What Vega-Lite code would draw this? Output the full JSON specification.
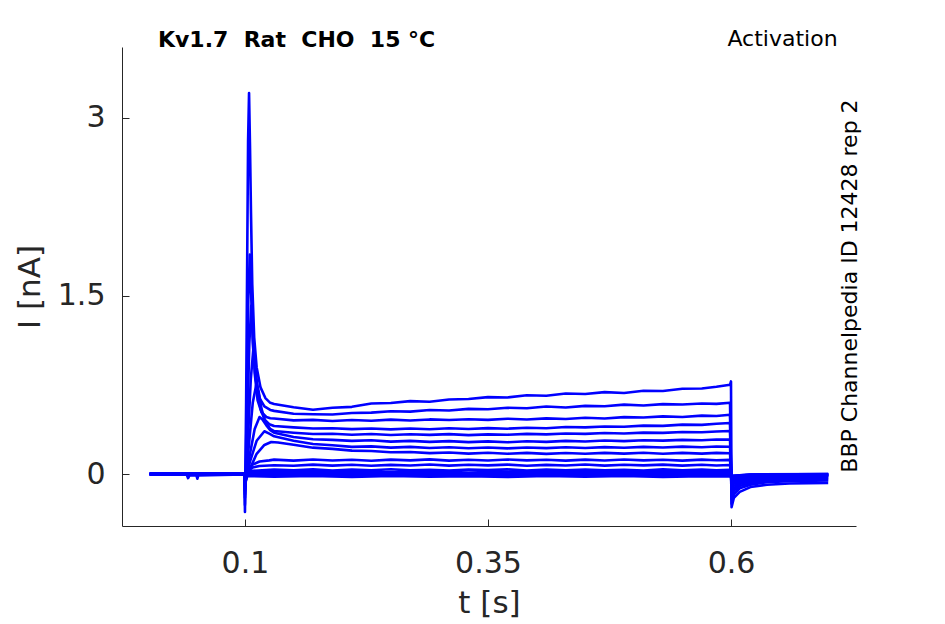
{
  "$schema": "https://vega.github.io/schema/vega-lite/v6.json",
  "width": 734,
  "height": 479,
  "autosize": "none",
  "padding": {"left": 122, "top": 47, "right": 89, "bottom": 98},
  "background": "white",
  "config": {"view": {"stroke": null}, "font": "DejaVu Sans"},
  "layer": [
    {
      "data": {
        "values": [
          {"sweep": 16, "t": 0.002, "i": 0.003}, {"sweep": 16, "t": 0.05, "i": -0.004}, {"sweep": 16, "t": 0.0995, "i": 0.002},
          {"sweep": 16, "t": 0.1, "i": -0.32}, {"sweep": 16, "t": 0.1012, "i": 0.6}, {"sweep": 16, "t": 0.1032, "i": 2.8},
          {"sweep": 16, "t": 0.1042, "i": 3.21}, {"sweep": 16, "t": 0.1052, "i": 2.75}, {"sweep": 16, "t": 0.1062, "i": 2.2},
          {"sweep": 16, "t": 0.1075, "i": 1.6}, {"sweep": 16, "t": 0.1095, "i": 1.15}, {"sweep": 16, "t": 0.112, "i": 0.9},
          {"sweep": 16, "t": 0.116, "i": 0.73}, {"sweep": 16, "t": 0.121, "i": 0.64}, {"sweep": 16, "t": 0.126, "i": 0.6},
          {"sweep": 16, "t": 0.13, "i": 0.59}, {"sweep": 16, "t": 0.15, "i": 0.562}, {"sweep": 16, "t": 0.17, "i": 0.541},
          {"sweep": 16, "t": 0.19, "i": 0.558}, {"sweep": 16, "t": 0.21, "i": 0.566}, {"sweep": 16, "t": 0.23, "i": 0.594},
          {"sweep": 16, "t": 0.25, "i": 0.598}, {"sweep": 16, "t": 0.27, "i": 0.614}, {"sweep": 16, "t": 0.29, "i": 0.609},
          {"sweep": 16, "t": 0.31, "i": 0.628}, {"sweep": 16, "t": 0.33, "i": 0.632}, {"sweep": 16, "t": 0.35, "i": 0.648},
          {"sweep": 16, "t": 0.37, "i": 0.645}, {"sweep": 16, "t": 0.39, "i": 0.664}, {"sweep": 16, "t": 0.41, "i": 0.66},
          {"sweep": 16, "t": 0.43, "i": 0.679}, {"sweep": 16, "t": 0.45, "i": 0.674}, {"sweep": 16, "t": 0.47, "i": 0.69},
          {"sweep": 16, "t": 0.49, "i": 0.683}, {"sweep": 16, "t": 0.51, "i": 0.702}, {"sweep": 16, "t": 0.53, "i": 0.699},
          {"sweep": 16, "t": 0.55, "i": 0.718}, {"sweep": 16, "t": 0.57, "i": 0.721}, {"sweep": 16, "t": 0.585, "i": 0.735},
          {"sweep": 16, "t": 0.599, "i": 0.752}, {"sweep": 16, "t": 0.6, "i": 0.78}, {"sweep": 16, "t": 0.6006, "i": -0.28},
          {"sweep": 16, "t": 0.603, "i": -0.2}, {"sweep": 16, "t": 0.609, "i": -0.15}, {"sweep": 16, "t": 0.62, "i": -0.11},
          {"sweep": 16, "t": 0.637, "i": -0.09}, {"sweep": 16, "t": 0.66, "i": -0.08}, {"sweep": 16, "t": 0.7, "i": -0.075},

          {"sweep": 15, "t": 0.002, "i": -0.002}, {"sweep": 15, "t": 0.05, "i": 0.003}, {"sweep": 15, "t": 0.0995, "i": -0.003},
          {"sweep": 15, "t": 0.1, "i": -0.26}, {"sweep": 15, "t": 0.1015, "i": 0.4}, {"sweep": 15, "t": 0.1035, "i": 1.5},
          {"sweep": 15, "t": 0.105, "i": 1.85}, {"sweep": 15, "t": 0.1062, "i": 1.55}, {"sweep": 15, "t": 0.108, "i": 1.1},
          {"sweep": 15, "t": 0.111, "i": 0.8}, {"sweep": 15, "t": 0.115, "i": 0.64}, {"sweep": 15, "t": 0.12, "i": 0.57},
          {"sweep": 15, "t": 0.126, "i": 0.54},
          {"sweep": 15, "t": 0.13, "i": 0.532}, {"sweep": 15, "t": 0.15, "i": 0.508}, {"sweep": 15, "t": 0.17, "i": 0.503},
          {"sweep": 15, "t": 0.19, "i": 0.501}, {"sweep": 15, "t": 0.21, "i": 0.514}, {"sweep": 15, "t": 0.23, "i": 0.517},
          {"sweep": 15, "t": 0.25, "i": 0.529}, {"sweep": 15, "t": 0.27, "i": 0.526}, {"sweep": 15, "t": 0.29, "i": 0.539},
          {"sweep": 15, "t": 0.31, "i": 0.535}, {"sweep": 15, "t": 0.33, "i": 0.549}, {"sweep": 15, "t": 0.35, "i": 0.546},
          {"sweep": 15, "t": 0.37, "i": 0.558}, {"sweep": 15, "t": 0.39, "i": 0.554}, {"sweep": 15, "t": 0.41, "i": 0.569},
          {"sweep": 15, "t": 0.43, "i": 0.561}, {"sweep": 15, "t": 0.45, "i": 0.574}, {"sweep": 15, "t": 0.47, "i": 0.571},
          {"sweep": 15, "t": 0.49, "i": 0.585}, {"sweep": 15, "t": 0.51, "i": 0.577}, {"sweep": 15, "t": 0.53, "i": 0.589},
          {"sweep": 15, "t": 0.55, "i": 0.586}, {"sweep": 15, "t": 0.57, "i": 0.594}, {"sweep": 15, "t": 0.585, "i": 0.591},
          {"sweep": 15, "t": 0.599, "i": 0.6}, {"sweep": 15, "t": 0.6006, "i": -0.25}, {"sweep": 15, "t": 0.603, "i": -0.17},
          {"sweep": 15, "t": 0.609, "i": -0.12}, {"sweep": 15, "t": 0.62, "i": -0.09}, {"sweep": 15, "t": 0.637, "i": -0.07},
          {"sweep": 15, "t": 0.66, "i": -0.06}, {"sweep": 15, "t": 0.7, "i": -0.055},

          {"sweep": 14, "t": 0.002, "i": 0.001}, {"sweep": 14, "t": 0.05, "i": -0.002}, {"sweep": 14, "t": 0.0995, "i": 0.001},
          {"sweep": 14, "t": 0.1, "i": -0.2}, {"sweep": 14, "t": 0.102, "i": 0.3}, {"sweep": 14, "t": 0.1045, "i": 1.1},
          {"sweep": 14, "t": 0.1065, "i": 1.42}, {"sweep": 14, "t": 0.108, "i": 1.2}, {"sweep": 14, "t": 0.11, "i": 0.85},
          {"sweep": 14, "t": 0.113, "i": 0.62}, {"sweep": 14, "t": 0.117, "i": 0.52}, {"sweep": 14, "t": 0.122, "i": 0.48},
          {"sweep": 14, "t": 0.126, "i": 0.47},
          {"sweep": 14, "t": 0.13, "i": 0.468}, {"sweep": 14, "t": 0.15, "i": 0.452}, {"sweep": 14, "t": 0.17, "i": 0.456},
          {"sweep": 14, "t": 0.19, "i": 0.447}, {"sweep": 14, "t": 0.21, "i": 0.455}, {"sweep": 14, "t": 0.23, "i": 0.449},
          {"sweep": 14, "t": 0.25, "i": 0.458}, {"sweep": 14, "t": 0.27, "i": 0.451}, {"sweep": 14, "t": 0.29, "i": 0.46},
          {"sweep": 14, "t": 0.31, "i": 0.455}, {"sweep": 14, "t": 0.33, "i": 0.462}, {"sweep": 14, "t": 0.35, "i": 0.456},
          {"sweep": 14, "t": 0.37, "i": 0.466}, {"sweep": 14, "t": 0.39, "i": 0.459}, {"sweep": 14, "t": 0.41, "i": 0.469},
          {"sweep": 14, "t": 0.43, "i": 0.464}, {"sweep": 14, "t": 0.45, "i": 0.474}, {"sweep": 14, "t": 0.47, "i": 0.468},
          {"sweep": 14, "t": 0.49, "i": 0.479}, {"sweep": 14, "t": 0.51, "i": 0.476}, {"sweep": 14, "t": 0.53, "i": 0.486},
          {"sweep": 14, "t": 0.55, "i": 0.481}, {"sweep": 14, "t": 0.57, "i": 0.492}, {"sweep": 14, "t": 0.585, "i": 0.489},
          {"sweep": 14, "t": 0.599, "i": 0.5}, {"sweep": 14, "t": 0.6006, "i": -0.21}, {"sweep": 14, "t": 0.603, "i": -0.14},
          {"sweep": 14, "t": 0.609, "i": -0.1}, {"sweep": 14, "t": 0.62, "i": -0.075}, {"sweep": 14, "t": 0.637, "i": -0.06},
          {"sweep": 14, "t": 0.66, "i": -0.05}, {"sweep": 14, "t": 0.7, "i": -0.045},

          {"sweep": 13, "t": 0.002, "i": -0.003}, {"sweep": 13, "t": 0.05, "i": 0.002}, {"sweep": 13, "t": 0.0995, "i": -0.001},
          {"sweep": 13, "t": 0.1, "i": -0.17}, {"sweep": 13, "t": 0.1025, "i": 0.2}, {"sweep": 13, "t": 0.106, "i": 0.8},
          {"sweep": 13, "t": 0.109, "i": 1.09}, {"sweep": 13, "t": 0.1105, "i": 0.95}, {"sweep": 13, "t": 0.113, "i": 0.7},
          {"sweep": 13, "t": 0.116, "i": 0.55}, {"sweep": 13, "t": 0.12, "i": 0.46}, {"sweep": 13, "t": 0.125, "i": 0.42},
          {"sweep": 13, "t": 0.13, "i": 0.404}, {"sweep": 13, "t": 0.15, "i": 0.393}, {"sweep": 13, "t": 0.17, "i": 0.384},
          {"sweep": 13, "t": 0.19, "i": 0.386}, {"sweep": 13, "t": 0.21, "i": 0.378}, {"sweep": 13, "t": 0.23, "i": 0.384},
          {"sweep": 13, "t": 0.25, "i": 0.376}, {"sweep": 13, "t": 0.27, "i": 0.383}, {"sweep": 13, "t": 0.29, "i": 0.377},
          {"sweep": 13, "t": 0.31, "i": 0.385}, {"sweep": 13, "t": 0.33, "i": 0.379}, {"sweep": 13, "t": 0.35, "i": 0.387},
          {"sweep": 13, "t": 0.37, "i": 0.382}, {"sweep": 13, "t": 0.39, "i": 0.39}, {"sweep": 13, "t": 0.41, "i": 0.386},
          {"sweep": 13, "t": 0.43, "i": 0.396}, {"sweep": 13, "t": 0.45, "i": 0.393}, {"sweep": 13, "t": 0.47, "i": 0.401},
          {"sweep": 13, "t": 0.49, "i": 0.398}, {"sweep": 13, "t": 0.51, "i": 0.408}, {"sweep": 13, "t": 0.53, "i": 0.406},
          {"sweep": 13, "t": 0.55, "i": 0.416}, {"sweep": 13, "t": 0.57, "i": 0.414}, {"sweep": 13, "t": 0.585, "i": 0.424},
          {"sweep": 13, "t": 0.599, "i": 0.43}, {"sweep": 13, "t": 0.6006, "i": -0.18}, {"sweep": 13, "t": 0.603, "i": -0.12},
          {"sweep": 13, "t": 0.609, "i": -0.085}, {"sweep": 13, "t": 0.62, "i": -0.06}, {"sweep": 13, "t": 0.637, "i": -0.05},
          {"sweep": 13, "t": 0.66, "i": -0.04}, {"sweep": 13, "t": 0.7, "i": -0.035},

          {"sweep": 12, "t": 0.002, "i": 0.002}, {"sweep": 12, "t": 0.05, "i": -0.003}, {"sweep": 12, "t": 0.0995, "i": 0.0},
          {"sweep": 12, "t": 0.1, "i": -0.14}, {"sweep": 12, "t": 0.103, "i": 0.15}, {"sweep": 12, "t": 0.108, "i": 0.6},
          {"sweep": 12, "t": 0.112, "i": 0.77}, {"sweep": 12, "t": 0.114, "i": 0.7}, {"sweep": 12, "t": 0.117, "i": 0.55},
          {"sweep": 12, "t": 0.121, "i": 0.44}, {"sweep": 12, "t": 0.126, "i": 0.38},
          {"sweep": 12, "t": 0.13, "i": 0.362}, {"sweep": 12, "t": 0.15, "i": 0.348}, {"sweep": 12, "t": 0.17, "i": 0.337},
          {"sweep": 12, "t": 0.19, "i": 0.339}, {"sweep": 12, "t": 0.21, "i": 0.331}, {"sweep": 12, "t": 0.23, "i": 0.337},
          {"sweep": 12, "t": 0.25, "i": 0.329}, {"sweep": 12, "t": 0.27, "i": 0.335}, {"sweep": 12, "t": 0.29, "i": 0.33},
          {"sweep": 12, "t": 0.31, "i": 0.336}, {"sweep": 12, "t": 0.33, "i": 0.328}, {"sweep": 12, "t": 0.35, "i": 0.334},
          {"sweep": 12, "t": 0.37, "i": 0.331}, {"sweep": 12, "t": 0.39, "i": 0.338}, {"sweep": 12, "t": 0.41, "i": 0.334},
          {"sweep": 12, "t": 0.43, "i": 0.341}, {"sweep": 12, "t": 0.45, "i": 0.338}, {"sweep": 12, "t": 0.47, "i": 0.345},
          {"sweep": 12, "t": 0.49, "i": 0.342}, {"sweep": 12, "t": 0.51, "i": 0.349}, {"sweep": 12, "t": 0.53, "i": 0.347},
          {"sweep": 12, "t": 0.55, "i": 0.354}, {"sweep": 12, "t": 0.57, "i": 0.352}, {"sweep": 12, "t": 0.585, "i": 0.358},
          {"sweep": 12, "t": 0.599, "i": 0.362}, {"sweep": 12, "t": 0.6006, "i": -0.15}, {"sweep": 12, "t": 0.603, "i": -0.1},
          {"sweep": 12, "t": 0.609, "i": -0.07}, {"sweep": 12, "t": 0.62, "i": -0.05}, {"sweep": 12, "t": 0.637, "i": -0.04},
          {"sweep": 12, "t": 0.66, "i": -0.03}, {"sweep": 12, "t": 0.7, "i": -0.028},

          {"sweep": 11, "t": 0.002, "i": -0.001}, {"sweep": 11, "t": 0.05, "i": 0.002}, {"sweep": 11, "t": 0.0995, "i": -0.002},
          {"sweep": 11, "t": 0.1, "i": -0.11}, {"sweep": 11, "t": 0.104, "i": 0.12}, {"sweep": 11, "t": 0.11, "i": 0.38},
          {"sweep": 11, "t": 0.115, "i": 0.48}, {"sweep": 11, "t": 0.118, "i": 0.46}, {"sweep": 11, "t": 0.122, "i": 0.41},
          {"sweep": 11, "t": 0.126, "i": 0.37},
          {"sweep": 11, "t": 0.13, "i": 0.348}, {"sweep": 11, "t": 0.15, "i": 0.312}, {"sweep": 11, "t": 0.17, "i": 0.293},
          {"sweep": 11, "t": 0.19, "i": 0.288}, {"sweep": 11, "t": 0.21, "i": 0.279}, {"sweep": 11, "t": 0.23, "i": 0.284},
          {"sweep": 11, "t": 0.25, "i": 0.273}, {"sweep": 11, "t": 0.27, "i": 0.279}, {"sweep": 11, "t": 0.29, "i": 0.271},
          {"sweep": 11, "t": 0.31, "i": 0.277}, {"sweep": 11, "t": 0.33, "i": 0.269}, {"sweep": 11, "t": 0.35, "i": 0.275},
          {"sweep": 11, "t": 0.37, "i": 0.268}, {"sweep": 11, "t": 0.39, "i": 0.276}, {"sweep": 11, "t": 0.41, "i": 0.271},
          {"sweep": 11, "t": 0.43, "i": 0.279}, {"sweep": 11, "t": 0.45, "i": 0.274}, {"sweep": 11, "t": 0.47, "i": 0.282},
          {"sweep": 11, "t": 0.49, "i": 0.277}, {"sweep": 11, "t": 0.51, "i": 0.285}, {"sweep": 11, "t": 0.53, "i": 0.281},
          {"sweep": 11, "t": 0.55, "i": 0.288}, {"sweep": 11, "t": 0.57, "i": 0.284}, {"sweep": 11, "t": 0.585, "i": 0.291},
          {"sweep": 11, "t": 0.599, "i": 0.29}, {"sweep": 11, "t": 0.6006, "i": -0.12}, {"sweep": 11, "t": 0.603, "i": -0.08},
          {"sweep": 11, "t": 0.609, "i": -0.055}, {"sweep": 11, "t": 0.62, "i": -0.04}, {"sweep": 11, "t": 0.637, "i": -0.03},
          {"sweep": 11, "t": 0.66, "i": -0.025}, {"sweep": 11, "t": 0.7, "i": -0.02},

          {"sweep": 10, "t": 0.002, "i": 0.001}, {"sweep": 10, "t": 0.05, "i": -0.001}, {"sweep": 10, "t": 0.0995, "i": 0.002},
          {"sweep": 10, "t": 0.1, "i": -0.09}, {"sweep": 10, "t": 0.105, "i": 0.1}, {"sweep": 10, "t": 0.112, "i": 0.28},
          {"sweep": 10, "t": 0.12, "i": 0.36}, {"sweep": 10, "t": 0.125, "i": 0.34},
          {"sweep": 10, "t": 0.13, "i": 0.318}, {"sweep": 10, "t": 0.15, "i": 0.281}, {"sweep": 10, "t": 0.17, "i": 0.253},
          {"sweep": 10, "t": 0.19, "i": 0.242}, {"sweep": 10, "t": 0.21, "i": 0.229}, {"sweep": 10, "t": 0.23, "i": 0.233},
          {"sweep": 10, "t": 0.25, "i": 0.222}, {"sweep": 10, "t": 0.27, "i": 0.229}, {"sweep": 10, "t": 0.29, "i": 0.219},
          {"sweep": 10, "t": 0.31, "i": 0.226}, {"sweep": 10, "t": 0.33, "i": 0.217}, {"sweep": 10, "t": 0.35, "i": 0.224},
          {"sweep": 10, "t": 0.37, "i": 0.216}, {"sweep": 10, "t": 0.39, "i": 0.223}, {"sweep": 10, "t": 0.41, "i": 0.218},
          {"sweep": 10, "t": 0.43, "i": 0.226}, {"sweep": 10, "t": 0.45, "i": 0.219}, {"sweep": 10, "t": 0.47, "i": 0.227},
          {"sweep": 10, "t": 0.49, "i": 0.221}, {"sweep": 10, "t": 0.51, "i": 0.229}, {"sweep": 10, "t": 0.53, "i": 0.223},
          {"sweep": 10, "t": 0.55, "i": 0.231}, {"sweep": 10, "t": 0.57, "i": 0.225}, {"sweep": 10, "t": 0.585, "i": 0.232},
          {"sweep": 10, "t": 0.599, "i": 0.23}, {"sweep": 10, "t": 0.6006, "i": -0.1}, {"sweep": 10, "t": 0.603, "i": -0.065},
          {"sweep": 10, "t": 0.609, "i": -0.045}, {"sweep": 10, "t": 0.62, "i": -0.03}, {"sweep": 10, "t": 0.637, "i": -0.022},
          {"sweep": 10, "t": 0.66, "i": -0.018}, {"sweep": 10, "t": 0.7, "i": -0.015},

          {"sweep": 9, "t": 0.002, "i": -0.002}, {"sweep": 9, "t": 0.05, "i": 0.001}, {"sweep": 9, "t": 0.0995, "i": -0.001},
          {"sweep": 9, "t": 0.1, "i": -0.07}, {"sweep": 9, "t": 0.106, "i": 0.06}, {"sweep": 9, "t": 0.112, "i": 0.17},
          {"sweep": 9, "t": 0.12, "i": 0.245}, {"sweep": 9, "t": 0.127, "i": 0.27}, {"sweep": 9, "t": 0.134, "i": 0.265},
          {"sweep": 9, "t": 0.15, "i": 0.247}, {"sweep": 9, "t": 0.17, "i": 0.222}, {"sweep": 9, "t": 0.19, "i": 0.212},
          {"sweep": 9, "t": 0.21, "i": 0.197}, {"sweep": 9, "t": 0.23, "i": 0.194}, {"sweep": 9, "t": 0.25, "i": 0.183},
          {"sweep": 9, "t": 0.27, "i": 0.185}, {"sweep": 9, "t": 0.29, "i": 0.176}, {"sweep": 9, "t": 0.31, "i": 0.181},
          {"sweep": 9, "t": 0.33, "i": 0.172}, {"sweep": 9, "t": 0.35, "i": 0.179}, {"sweep": 9, "t": 0.37, "i": 0.171},
          {"sweep": 9, "t": 0.39, "i": 0.178}, {"sweep": 9, "t": 0.41, "i": 0.17}, {"sweep": 9, "t": 0.43, "i": 0.177},
          {"sweep": 9, "t": 0.45, "i": 0.171}, {"sweep": 9, "t": 0.47, "i": 0.178}, {"sweep": 9, "t": 0.49, "i": 0.172},
          {"sweep": 9, "t": 0.51, "i": 0.179}, {"sweep": 9, "t": 0.53, "i": 0.171}, {"sweep": 9, "t": 0.55, "i": 0.178},
          {"sweep": 9, "t": 0.57, "i": 0.172}, {"sweep": 9, "t": 0.585, "i": 0.178}, {"sweep": 9, "t": 0.599, "i": 0.175},
          {"sweep": 9, "t": 0.6006, "i": -0.08}, {"sweep": 9, "t": 0.603, "i": -0.05}, {"sweep": 9, "t": 0.609, "i": -0.035},
          {"sweep": 9, "t": 0.62, "i": -0.025}, {"sweep": 9, "t": 0.637, "i": -0.02}, {"sweep": 9, "t": 0.66, "i": -0.015},
          {"sweep": 9, "t": 0.7, "i": -0.012},

          {"sweep": 8, "t": 0.002, "i": 0.0}, {"sweep": 8, "t": 0.05, "i": -0.002}, {"sweep": 8, "t": 0.0995, "i": 0.001},
          {"sweep": 8, "t": 0.1, "i": -0.05}, {"sweep": 8, "t": 0.104, "i": 0.04}, {"sweep": 8, "t": 0.108, "i": 0.08},
          {"sweep": 8, "t": 0.115, "i": 0.105}, {"sweep": 8, "t": 0.125, "i": 0.115},
          {"sweep": 8, "t": 0.13, "i": 0.121}, {"sweep": 8, "t": 0.15, "i": 0.113}, {"sweep": 8, "t": 0.17, "i": 0.122},
          {"sweep": 8, "t": 0.19, "i": 0.114}, {"sweep": 8, "t": 0.21, "i": 0.12}, {"sweep": 8, "t": 0.23, "i": 0.112},
          {"sweep": 8, "t": 0.25, "i": 0.121}, {"sweep": 8, "t": 0.27, "i": 0.115}, {"sweep": 8, "t": 0.29, "i": 0.123},
          {"sweep": 8, "t": 0.31, "i": 0.113}, {"sweep": 8, "t": 0.33, "i": 0.12}, {"sweep": 8, "t": 0.35, "i": 0.114},
          {"sweep": 8, "t": 0.37, "i": 0.122}, {"sweep": 8, "t": 0.39, "i": 0.115}, {"sweep": 8, "t": 0.41, "i": 0.12},
          {"sweep": 8, "t": 0.43, "i": 0.113}, {"sweep": 8, "t": 0.45, "i": 0.121}, {"sweep": 8, "t": 0.47, "i": 0.114},
          {"sweep": 8, "t": 0.49, "i": 0.122}, {"sweep": 8, "t": 0.51, "i": 0.115}, {"sweep": 8, "t": 0.53, "i": 0.12},
          {"sweep": 8, "t": 0.55, "i": 0.113}, {"sweep": 8, "t": 0.57, "i": 0.121}, {"sweep": 8, "t": 0.585, "i": 0.116},
          {"sweep": 8, "t": 0.599, "i": 0.119}, {"sweep": 8, "t": 0.6006, "i": -0.06}, {"sweep": 8, "t": 0.603, "i": -0.04},
          {"sweep": 8, "t": 0.609, "i": -0.028}, {"sweep": 8, "t": 0.62, "i": -0.02}, {"sweep": 8, "t": 0.637, "i": -0.015},
          {"sweep": 8, "t": 0.66, "i": -0.012}, {"sweep": 8, "t": 0.7, "i": -0.01},

          {"sweep": 7, "t": 0.002, "i": 0.002}, {"sweep": 7, "t": 0.05, "i": 0.0}, {"sweep": 7, "t": 0.0995, "i": -0.002},
          {"sweep": 7, "t": 0.1, "i": -0.04}, {"sweep": 7, "t": 0.104, "i": 0.03}, {"sweep": 7, "t": 0.108, "i": 0.055},
          {"sweep": 7, "t": 0.115, "i": 0.068},
          {"sweep": 7, "t": 0.13, "i": 0.074}, {"sweep": 7, "t": 0.15, "i": 0.07}, {"sweep": 7, "t": 0.17, "i": 0.079},
          {"sweep": 7, "t": 0.19, "i": 0.071}, {"sweep": 7, "t": 0.21, "i": 0.078}, {"sweep": 7, "t": 0.23, "i": 0.07},
          {"sweep": 7, "t": 0.25, "i": 0.077}, {"sweep": 7, "t": 0.27, "i": 0.072}, {"sweep": 7, "t": 0.29, "i": 0.08},
          {"sweep": 7, "t": 0.31, "i": 0.071}, {"sweep": 7, "t": 0.33, "i": 0.078}, {"sweep": 7, "t": 0.35, "i": 0.073},
          {"sweep": 7, "t": 0.37, "i": 0.079}, {"sweep": 7, "t": 0.39, "i": 0.07}, {"sweep": 7, "t": 0.41, "i": 0.077},
          {"sweep": 7, "t": 0.43, "i": 0.072}, {"sweep": 7, "t": 0.45, "i": 0.08}, {"sweep": 7, "t": 0.47, "i": 0.071},
          {"sweep": 7, "t": 0.49, "i": 0.078}, {"sweep": 7, "t": 0.51, "i": 0.073}, {"sweep": 7, "t": 0.53, "i": 0.079},
          {"sweep": 7, "t": 0.55, "i": 0.071}, {"sweep": 7, "t": 0.57, "i": 0.078}, {"sweep": 7, "t": 0.585, "i": 0.072},
          {"sweep": 7, "t": 0.599, "i": 0.076}, {"sweep": 7, "t": 0.6006, "i": -0.045}, {"sweep": 7, "t": 0.603, "i": -0.03},
          {"sweep": 7, "t": 0.609, "i": -0.02}, {"sweep": 7, "t": 0.62, "i": -0.015}, {"sweep": 7, "t": 0.637, "i": -0.012},
          {"sweep": 7, "t": 0.66, "i": -0.01}, {"sweep": 7, "t": 0.7, "i": -0.008},

          {"sweep": 6, "t": 0.002, "i": -0.001}, {"sweep": 6, "t": 0.05, "i": 0.002}, {"sweep": 6, "t": 0.0995, "i": 0.0},
          {"sweep": 6, "t": 0.1, "i": -0.03}, {"sweep": 6, "t": 0.105, "i": 0.025},
          {"sweep": 6, "t": 0.13, "i": 0.038}, {"sweep": 6, "t": 0.15, "i": 0.031}, {"sweep": 6, "t": 0.17, "i": 0.039},
          {"sweep": 6, "t": 0.19, "i": 0.03}, {"sweep": 6, "t": 0.21, "i": 0.037}, {"sweep": 6, "t": 0.23, "i": 0.032},
          {"sweep": 6, "t": 0.25, "i": 0.04}, {"sweep": 6, "t": 0.27, "i": 0.031}, {"sweep": 6, "t": 0.29, "i": 0.036},
          {"sweep": 6, "t": 0.31, "i": 0.029}, {"sweep": 6, "t": 0.33, "i": 0.038}, {"sweep": 6, "t": 0.35, "i": 0.033},
          {"sweep": 6, "t": 0.37, "i": 0.039}, {"sweep": 6, "t": 0.39, "i": 0.03}, {"sweep": 6, "t": 0.41, "i": 0.037},
          {"sweep": 6, "t": 0.43, "i": 0.032}, {"sweep": 6, "t": 0.45, "i": 0.038}, {"sweep": 6, "t": 0.47, "i": 0.031},
          {"sweep": 6, "t": 0.49, "i": 0.036}, {"sweep": 6, "t": 0.51, "i": 0.03}, {"sweep": 6, "t": 0.53, "i": 0.039},
          {"sweep": 6, "t": 0.55, "i": 0.032}, {"sweep": 6, "t": 0.57, "i": 0.037}, {"sweep": 6, "t": 0.585, "i": 0.031},
          {"sweep": 6, "t": 0.599, "i": 0.035}, {"sweep": 6, "t": 0.6006, "i": -0.035}, {"sweep": 6, "t": 0.61, "i": -0.015},
          {"sweep": 6, "t": 0.64, "i": -0.008}, {"sweep": 6, "t": 0.7, "i": -0.005},

          {"sweep": 5, "t": 0.002, "i": 0.0}, {"sweep": 5, "t": 0.05, "i": -0.003}, {"sweep": 5, "t": 0.0995, "i": 0.001},
          {"sweep": 5, "t": 0.1, "i": -0.025}, {"sweep": 5, "t": 0.102, "i": 0.012}, {"sweep": 5, "t": 0.13, "i": 0.02},
          {"sweep": 5, "t": 0.17, "i": 0.014}, {"sweep": 5, "t": 0.21, "i": 0.021}, {"sweep": 5, "t": 0.25, "i": 0.015},
          {"sweep": 5, "t": 0.29, "i": 0.022}, {"sweep": 5, "t": 0.33, "i": 0.013}, {"sweep": 5, "t": 0.37, "i": 0.02},
          {"sweep": 5, "t": 0.41, "i": 0.016}, {"sweep": 5, "t": 0.45, "i": 0.023}, {"sweep": 5, "t": 0.49, "i": 0.014},
          {"sweep": 5, "t": 0.53, "i": 0.02}, {"sweep": 5, "t": 0.57, "i": 0.015}, {"sweep": 5, "t": 0.599, "i": 0.019},
          {"sweep": 5, "t": 0.6006, "i": -0.03}, {"sweep": 5, "t": 0.62, "i": -0.01}, {"sweep": 5, "t": 0.7, "i": -0.004},

          {"sweep": 4, "t": 0.002, "i": 0.002}, {"sweep": 4, "t": 0.05, "i": 0.0}, {"sweep": 4, "t": 0.0995, "i": -0.002},
          {"sweep": 4, "t": 0.1, "i": -0.02}, {"sweep": 4, "t": 0.102, "i": 0.005}, {"sweep": 4, "t": 0.13, "i": 0.01},
          {"sweep": 4, "t": 0.17, "i": 0.004}, {"sweep": 4, "t": 0.21, "i": 0.011}, {"sweep": 4, "t": 0.25, "i": 0.005},
          {"sweep": 4, "t": 0.29, "i": 0.012}, {"sweep": 4, "t": 0.33, "i": 0.003}, {"sweep": 4, "t": 0.37, "i": 0.01},
          {"sweep": 4, "t": 0.41, "i": 0.006}, {"sweep": 4, "t": 0.45, "i": 0.013}, {"sweep": 4, "t": 0.49, "i": 0.004},
          {"sweep": 4, "t": 0.53, "i": 0.01}, {"sweep": 4, "t": 0.57, "i": 0.005}, {"sweep": 4, "t": 0.599, "i": 0.009},
          {"sweep": 4, "t": 0.6006, "i": -0.025}, {"sweep": 4, "t": 0.62, "i": -0.008}, {"sweep": 4, "t": 0.7, "i": -0.003},

          {"sweep": 3, "t": 0.002, "i": -0.002}, {"sweep": 3, "t": 0.05, "i": 0.002}, {"sweep": 3, "t": 0.0995, "i": 0.0},
          {"sweep": 3, "t": 0.1, "i": -0.015}, {"sweep": 3, "t": 0.102, "i": -0.002}, {"sweep": 3, "t": 0.13, "i": 0.003},
          {"sweep": 3, "t": 0.17, "i": -0.004}, {"sweep": 3, "t": 0.21, "i": 0.002}, {"sweep": 3, "t": 0.25, "i": -0.005},
          {"sweep": 3, "t": 0.29, "i": 0.004}, {"sweep": 3, "t": 0.33, "i": -0.003}, {"sweep": 3, "t": 0.37, "i": 0.003},
          {"sweep": 3, "t": 0.41, "i": -0.004}, {"sweep": 3, "t": 0.45, "i": 0.002}, {"sweep": 3, "t": 0.49, "i": -0.005},
          {"sweep": 3, "t": 0.53, "i": 0.003}, {"sweep": 3, "t": 0.57, "i": -0.003}, {"sweep": 3, "t": 0.599, "i": 0.001},
          {"sweep": 3, "t": 0.6006, "i": -0.02}, {"sweep": 3, "t": 0.62, "i": -0.006}, {"sweep": 3, "t": 0.7, "i": -0.002},

          {"sweep": 2, "t": 0.002, "i": 0.001}, {"sweep": 2, "t": 0.05, "i": -0.002}, {"sweep": 2, "t": 0.0995, "i": 0.001},
          {"sweep": 2, "t": 0.1, "i": -0.02}, {"sweep": 2, "t": 0.102, "i": -0.008}, {"sweep": 2, "t": 0.13, "i": -0.012},
          {"sweep": 2, "t": 0.17, "i": -0.006}, {"sweep": 2, "t": 0.21, "i": -0.013}, {"sweep": 2, "t": 0.25, "i": -0.007},
          {"sweep": 2, "t": 0.29, "i": -0.014}, {"sweep": 2, "t": 0.33, "i": -0.008}, {"sweep": 2, "t": 0.37, "i": -0.012},
          {"sweep": 2, "t": 0.41, "i": -0.006}, {"sweep": 2, "t": 0.45, "i": -0.013}, {"sweep": 2, "t": 0.49, "i": -0.008},
          {"sweep": 2, "t": 0.53, "i": -0.014}, {"sweep": 2, "t": 0.57, "i": -0.007}, {"sweep": 2, "t": 0.599, "i": -0.011},
          {"sweep": 2, "t": 0.6006, "i": -0.018}, {"sweep": 2, "t": 0.62, "i": -0.005}, {"sweep": 2, "t": 0.7, "i": -0.001},

          {"sweep": 1, "t": 0.002, "i": -0.003}, {"sweep": 1, "t": 0.04, "i": -0.005}, {"sweep": 1, "t": 0.0415, "i": -0.035},
          {"sweep": 1, "t": 0.043, "i": -0.012}, {"sweep": 1, "t": 0.05, "i": -0.01}, {"sweep": 1, "t": 0.051, "i": -0.04},
          {"sweep": 1, "t": 0.052, "i": -0.012}, {"sweep": 1, "t": 0.0995, "i": -0.004},
          {"sweep": 1, "t": 0.1, "i": -0.03}, {"sweep": 1, "t": 0.102, "i": -0.018}, {"sweep": 1, "t": 0.13, "i": -0.022},
          {"sweep": 1, "t": 0.17, "i": -0.016}, {"sweep": 1, "t": 0.21, "i": -0.024}, {"sweep": 1, "t": 0.25, "i": -0.017},
          {"sweep": 1, "t": 0.29, "i": -0.023}, {"sweep": 1, "t": 0.33, "i": -0.018}, {"sweep": 1, "t": 0.37, "i": -0.025},
          {"sweep": 1, "t": 0.41, "i": -0.017}, {"sweep": 1, "t": 0.45, "i": -0.022}, {"sweep": 1, "t": 0.49, "i": -0.016},
          {"sweep": 1, "t": 0.53, "i": -0.024}, {"sweep": 1, "t": 0.57, "i": -0.018}, {"sweep": 1, "t": 0.599, "i": -0.021},
          {"sweep": 1, "t": 0.6006, "i": -0.015}, {"sweep": 1, "t": 0.62, "i": -0.004}, {"sweep": 1, "t": 0.7, "i": 0.0}
        ]
      },
      "mark": {"type": "line", "color": "#0000ff", "strokeWidth": 2.6, "strokeJoin": "round"},
      "encoding": {
        "x": {
          "field": "t",
          "type": "quantitative",
          "scale": {"domain": [-0.0265, 0.7286], "nice": false, "zero": false},
          "axis": {
            "values": [0.1, 0.35, 0.6],
            "format": "~g",
            "title": "t [s]",
            "grid": false,
            "tickSize": -7,
            "labelPadding": 29,
            "labelFontSize": 30,
            "labelFont": "DejaVu Sans",
            "labelColor": "#262626",
            "tickColor": "#262626",
            "domainColor": "#262626",
            "titleFont": "DejaVu Sans",
            "titleFontSize": 31,
            "titleFontWeight": "normal",
            "titleColor": "#262626",
            "titlePadding": 10
          }
        },
        "y": {
          "field": "i",
          "type": "quantitative",
          "scale": {"domain": [-0.438, 3.598], "nice": false, "zero": false},
          "axis": {
            "values": [0, 1.5, 3],
            "format": "~g",
            "title": "I [nA]",
            "grid": false,
            "tickSize": -7,
            "labelPadding": 24,
            "labelFontSize": 30,
            "labelFont": "DejaVu Sans",
            "labelColor": "#262626",
            "tickColor": "#262626",
            "domainColor": "#262626",
            "titleFont": "DejaVu Sans",
            "titleFontSize": 31,
            "titleFontWeight": "normal",
            "titleColor": "#262626",
            "titlePadding": 11
          }
        },
        "detail": {"field": "sweep", "type": "nominal"}
      }
    },
    {
      "data": {"values": [{"label": "Kv1.7\u00a0 Rat\u00a0 CHO\u00a0 15 °C"}]},
      "mark": {"type": "text", "align": "left", "baseline": "alphabetic", "fontSize": 22, "fontWeight": "bold", "font": "DejaVu Sans", "color": "#000000"},
      "encoding": {
        "x": {"datum": 0.0105, "type": "quantitative"},
        "y": {"datum": 3.598, "type": "quantitative"},
        "text": {"field": "label", "type": "nominal"}
      }
    },
    {
      "data": {"values": [{"label": "Activation"}]},
      "mark": {"type": "text", "align": "center", "baseline": "alphabetic", "fontSize": 22, "font": "DejaVu Sans", "color": "#000000"},
      "encoding": {
        "x": {"datum": 0.653, "type": "quantitative"},
        "y": {"datum": 3.607, "type": "quantitative"},
        "text": {"field": "label", "type": "nominal"}
      }
    },
    {
      "data": {"values": [{"label": "BBP Channelpedia ID 12428 rep 2"}]},
      "mark": {"type": "text", "align": "center", "baseline": "alphabetic", "angle": 270, "fontSize": 22, "font": "DejaVu Sans", "color": "#000000"},
      "encoding": {
        "x": {"datum": 0.7293, "type": "quantitative"},
        "y": {"datum": 1.584, "type": "quantitative"},
        "text": {"field": "label", "type": "nominal"}
      }
    }
  ]
}
